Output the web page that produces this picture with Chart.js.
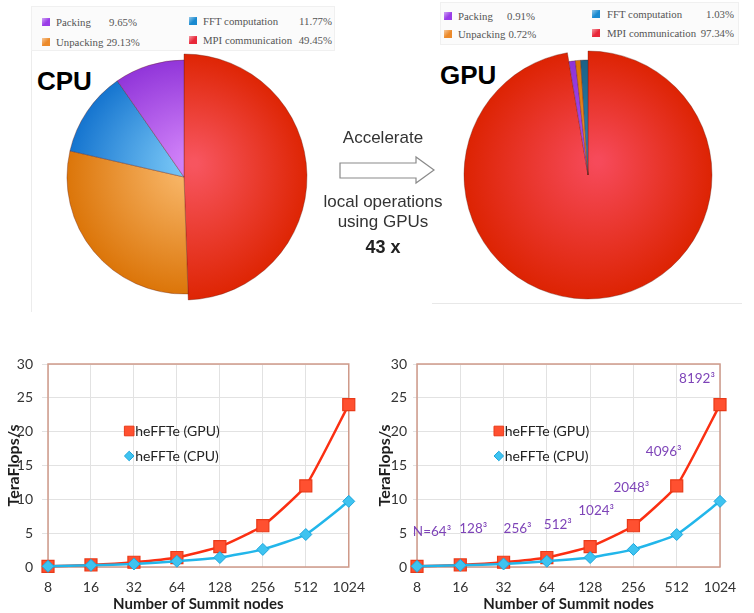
<!DOCTYPE html>
<html>
<head>
<meta charset="utf-8">
<title>heFFTe: time breakdown and scaling on Summit</title>
<script src="https://cdn.jsdelivr.net/npm/chart.js@4.4.1/dist/chart.umd.min.js"></script>
<style>
  html, body { margin: 0; padding: 0; background: #fff; }
  #page { position: relative; width: 754px; height: 613px; overflow: hidden;
          font-family: "Liberation Sans", Arial, sans-serif; }
  #page canvas { position: absolute; }
  .abs { position: absolute; }
  .big { font-weight: bold; font-size: 26px; line-height: 30px; color: #000; }
  .note { font-size: 17px; line-height: 20px; color: #333; text-align: center; width: 160px; }
  .legbox { position: absolute; background: #fbfbfb; border: 1px solid #f0f0f0; }
  .legrow { position: absolute; height: 14px; line-height: 14px; display: flex;
            justify-content: space-between; white-space: nowrap;
            font-family: "Liberation Serif", "Times New Roman", serif; font-size: 10.8px; color: #555; }
  .legrow span + span { margin-left: 3px; }
  .sw { position: absolute; width: 8px; height: 8px; }
</style>
</head>
<body>
<div id="page">
  <!-- panel edges -->
  <div class="abs" style="left:31px;top:6px;width:0;height:306px;border-left:1px solid #ececec;"></div>
  <div class="abs" style="left:432px;top:303px;width:310px;height:0;border-top:1px solid #e8e8e8;"></div>

  <div class="legbox" style="left:31px;top:6px;width:302px;height:43px;"></div>
  <div class="legbox" style="left:440px;top:2px;width:297px;height:41px;"></div>
  <div id="cpuLegend"></div>
  <div id="gpuLegend"></div>

  <div class="abs big" style="left:37px;top:66px;">CPU</div>
  <div class="abs big" style="left:440px;top:60px;">GPU</div>

  <canvas id="cpuPie" width="260" height="260" style="left:54px;top:47px;"></canvas>
  <canvas id="gpuPie" width="260" height="260" style="left:458px;top:45px;"></canvas>

  <!-- arrow between the two breakdowns -->
  <div class="abs note" style="left:303px;top:128px;">Accelerate</div>
  <svg class="abs" style="left:338px;top:154px;" width="100" height="32" viewBox="0 0 100 32">
    <polygon points="2,9 78,9 78,3 96,16 78,29 78,24 2,24" fill="#fff" stroke="#8a8a8a" stroke-width="1.2"/>
  </svg>
  <div class="abs note" style="left:303px;top:192px;">local operations<br>using GPUs</div>
  <div class="abs note" style="left:303px;top:237px;font-weight:bold;font-size:18px;color:#222;">43 x</div>

  <canvas id="scaleLeft" width="377" height="273" style="left:0;top:340px;"></canvas>
  <canvas id="scaleRight" width="377" height="273" style="left:377px;top:340px;"></canvas>
</div>

<script>
// Share of run time per phase (percent)
const cpuParts  = ['MPI communication', 'Unpacking', 'FFT computation', 'Packing'];
const cpuShares = [49.45, 29.13, 11.77, 9.65];
const gpuParts  = ['MPI communication', 'Packing', 'Unpacking', 'FFT computation'];
const gpuShares = [97.34, 0.91, 0.72, 1.03];
const legendOrder = ['Packing', 'Unpacking', 'FFT computation', 'MPI communication'];

// Scaling runs on Summit
const summitNodes = ['8', '16', '32', '64', '128', '256', '512', '1024'];
const gpuTflops = [0.1, 0.3, 0.7, 1.4, 3.0, 6.1, 12.0, 24.0];
const cpuTflops = [0.1, 0.25, 0.45, 0.85, 1.4, 2.6, 4.8, 9.7];
const problemSizes = ['N=64³', '128³', '256³', '512³', '1024³', '2048³', '4096³', '8192³'];

// ---------- pie charts ----------
const cpuFill = {
  'MPI communication': ['#f7555f', '#dd2300'],
  'Unpacking':         ['#fbbd72', '#d96f00'],
  'FFT computation':   ['#80cdf9', '#0b6ccb'],
  'Packing':           ['#d486fa', '#8a2dd6']
};
const gpuFill = {
  'MPI communication': ['#f64a5a', '#dc2200'],
  'Packing':           ['#a850ee', '#8a2fd6'],
  'Unpacking':         ['#f09030', '#d87000'],
  'FFT computation':   ['#2a86b4', '#195c80']
};
const swatch = {
  'Packing': '#9a3de8', 'Unpacking': '#ec8a2a',
  'FFT computation': '#1a8ad0', 'MPI communication': '#e8283a'
};

function radialFill(c, stops) {
  const area = c.chart.chartArea;
  if (!area) return stops[1];
  const cx = (area.left + area.right) / 2, cy = (area.top + area.bottom) / 2;
  const g = c.chart.ctx.createRadialGradient(cx + 10, cy - 14, 4, cx, cy, 128);
  g.addColorStop(0, stops[0]);
  g.addColorStop(1, stops[1]);
  return g;
}

// lets one slice stand a little proud of the others
const raisedSlice = {
  id: 'raisedSlice',
  afterDatasetUpdate(chart, args, opts) {
    const arc = args.meta.data[opts.index];
    if (arc) arc.outerRadius += opts.extra;
  }
};

function makePie(id, parts, shares, fills, radius, lift) {
  return new Chart(document.getElementById(id), {
    type: 'pie',
    data: {
      labels: parts,
      datasets: [{
        data: shares,
        radius: radius,
        backgroundColor: c => radialFill(c, fills[parts[c.dataIndex]]),
        borderColor: 'rgba(100,30,20,0.45)',
        borderWidth: 0.8
      }]
    },
    options: {
      responsive: false, animation: false, events: [],
      layout: { padding: 0 },
      plugins: {
        legend: { display: false }, tooltip: { enabled: false },
        raisedSlice: { index: 0, extra: lift }
      }
    },
    plugins: [raisedSlice]
  });
}

makePie('cpuPie', cpuParts, cpuShares, cpuFill, 117, 6);
makePie('gpuPie', gpuParts, gpuShares, gpuFill, 115, 9);

// legend blocks above each pie: two columns of two rows
function buildLegend(holderId, parts, shares, cols) {
  const holder = document.getElementById(holderId);
  legendOrder.forEach((name, k) => {
    const col = cols[Math.floor(k / 2)];
    const cy = col.rows[k % 2];
    const value = shares[parts.indexOf(name)];
    const sw = document.createElement('div');
    sw.className = 'sw';
    sw.style.left = col.sx + 'px';
    sw.style.top = (cy - 4) + 'px';
    sw.style.background = 'linear-gradient(135deg, #fff8 0%, ' + swatch[name] + ' 55%)';
    sw.style.backgroundColor = swatch[name];
    holder.appendChild(sw);
    const row = document.createElement('div');
    row.className = 'legrow';
    row.style.left = col.tx + 'px';
    row.style.top = (cy - 7) + 'px';
    row.style.width = (col.end - col.tx) + 'px';
    const a = document.createElement('span'); a.textContent = name;
    const b = document.createElement('span'); b.textContent = value.toFixed(2) + '%';
    row.appendChild(a); row.appendChild(b);
    holder.appendChild(row);
  });
}
buildLegend('cpuLegend', cpuParts, cpuShares, [
  { sx: 42, tx: 56, end: 137, rows: [22, 42] },
  { sx: 189, tx: 203, end: 332, rows: [21, 40] }
]);
buildLegend('gpuLegend', gpuParts, gpuShares, [
  { sx: 444, tx: 458, end: 535, rows: [16, 34] },
  { sx: 592, tx: 607, end: 734, rows: [14, 33] }
]);

// ---------- scaling charts ----------
Chart.defaults.font.family = 'Lato, "Open Sans", sans-serif';

const plotFrame = {
  id: 'plotFrame',
  beforeDatasetsDraw(chart, args, o) {
    const { ctx, chartArea: { left, top, right, bottom } } = chart;
    ctx.save();
    ctx.strokeStyle = o.color;
    ctx.lineWidth = o.width;
    ctx.strokeRect(left, top, right - left, bottom - top);
    ctx.restore();
  }
};

const inlineLegend = {
  id: 'inlineLegend',
  afterDatasetsDraw(chart, args, o) {
    const { ctx, chartArea } = chart;
    const x = chartArea.left + o.x * chartArea.width;
    let y = chartArea.top + o.y * chartArea.height;
    chart.data.datasets.forEach(ds => {
      ctx.save();
      ctx.fillStyle = ds.pointBackgroundColor;
      ctx.strokeStyle = ds.pointBorderColor;
      ctx.lineWidth = 1;
      Chart.helpers.drawPoint(ctx, {
        pointStyle: ds.pointStyle, radius: ds.pointRadius * 0.8, rotation: 0, borderWidth: 1
      }, x, y);
      ctx.fillStyle = o.color;
      ctx.font = o.font;
      ctx.textAlign = 'left';
      ctx.textBaseline = 'middle';
      ctx.fillText(ds.label, x + o.gap, y);
      ctx.restore();
      y += o.rowGap;
    });
  }
};

const sizeLabels = {
  id: 'sizeLabels',
  afterDatasetsDraw(chart, args, o) {
    if (!o.show) return;
    const { ctx } = chart;
    const xs = chart.scales.x, ys = chart.scales.y;
    ctx.save();
    ctx.fillStyle = o.color;
    ctx.font = o.font;
    ctx.textAlign = 'center';
    ctx.textBaseline = 'middle';
    problemSizes.forEach((t, i) => {
      ctx.fillText(t, xs.getPixelForValue(i) + o.shift[i], ys.getPixelForValue(o.level[i]));
    });
    ctx.restore();
  }
};

function makeScaling(id, axisWidth, padRight, titlePad, tickLen, tickPad, withSizes) {
  return new Chart(document.getElementById(id), {
    type: 'line',
    data: {
      labels: summitNodes,
      datasets: [
        {
          label: 'heFFTe (GPU)', data: gpuTflops, order: 1,
          borderColor: '#fb2f12', borderWidth: 2.5, tension: 0.15, clip: false,
          pointStyle: 'rect', pointRadius: 8.5,
          pointBackgroundColor: '#ff5030', pointBorderColor: '#e93a18', pointBorderWidth: 1.2
        },
        {
          label: 'heFFTe (CPU)', data: cpuTflops, order: 0,
          borderColor: '#22b6ea', borderWidth: 2.5, tension: 0.15, clip: false,
          pointStyle: 'rectRot', pointRadius: 6,
          pointBackgroundColor: '#3ec3f0', pointBorderColor: '#1ea6dc', pointBorderWidth: 1
        }
      ]
    },
    options: {
      responsive: false, animation: false, events: [],
      layout: { padding: { top: 24, right: padRight, bottom: 0, left: 0 } },
      scales: {
        x: {
          offset: false,
          grid: { color: '#e2e2e2', drawTicks: false },
          border: { display: false },
          ticks: { color: '#333', font: { size: 14 }, padding: 12, maxRotation: 0 },
          title: { display: true, text: 'Number of Summit nodes', color: '#1e1e1e',
                   font: { size: 15, weight: 'bold' }, padding: 0 },
          afterFit(s) { s.height = 46; }
        },
        y: {
          min: 0, max: 30,
          grid: { color: '#e2e2e2', tickLength: tickLen },
          border: { display: false },
          ticks: { stepSize: 5, color: '#333', font: { size: 14 }, padding: tickPad },
          title: { display: true, text: 'TeraFlops/s', color: '#1e1e1e',
                   font: { size: 16, weight: 'bold', lineHeight: 1 },
                   padding: { top: titlePad, bottom: 0 } },
          afterFit(s) { s.width = axisWidth; }
        }
      },
      plugins: {
        legend: { display: false }, tooltip: { enabled: false },
        plotFrame: { color: '#cf9a8a', width: 1.5 },
        inlineLegend: { x: 0.27, y: 0.33, gap: 6, rowGap: 25,
                        font: '14px Lato, "Open Sans", sans-serif', color: '#222' },
        sizeLabels: {
          show: withSizes, color: '#7e44b8', font: '13.5px Lato, "Open Sans", sans-serif',
          shift: [15, 13, 14, 11, 6, -2, -13, -23],
          level: [5.2, 5.6, 5.6, 6.2, 8.4, 11.7, 17.0, 27.8]
        }
      }
    },
    plugins: [plotFrame, inlineLegend, sizeLabels]
  });
}

makeScaling('scaleLeft', 48, 28, 6, 6, 9, false);
makeScaling('scaleRight', 40, 34, 0, 4, 6, true);
</script>
</body>
</html>
